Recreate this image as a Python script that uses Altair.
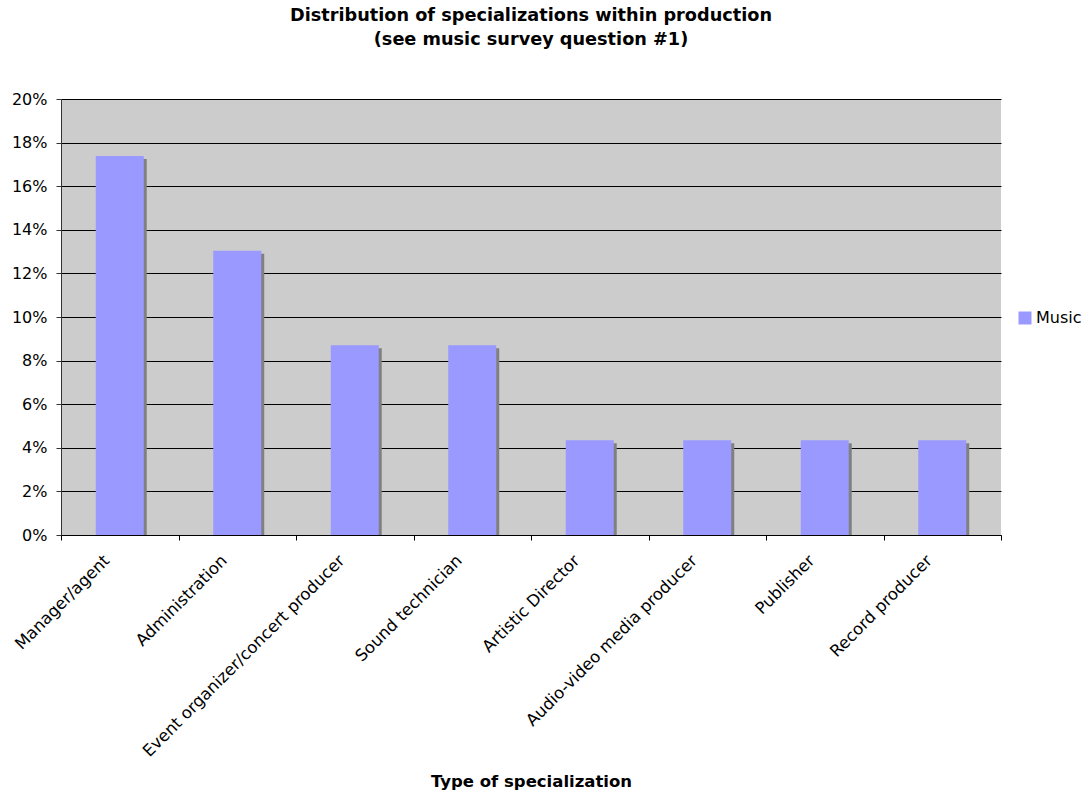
import altair as alt
import pandas as pd

# Share of respondents per production specialization (music survey, question #1)
categories = [
    "Manager/agent",
    "Administration",
    "Event organizer/concert producer",
    "Sound technician",
    "Artistic Director",
    "Audio-video media producer",
    "Publisher",
    "Record producer",
]
shares = [0.1739, 0.1304, 0.0870, 0.0870, 0.0435, 0.0435, 0.0435, 0.0435]
series_name = "Music"
y_ticks = [0, 0.02, 0.04, 0.06, 0.08, 0.10, 0.12, 0.14, 0.16, 0.18, 0.20]

df = pd.DataFrame({"category": categories, "share": shares, "series": series_name})

FONT = "DejaVu Sans"

x_enc = alt.X(
    "category:N",
    sort=categories,
    scale=alt.Scale(paddingInner=0, paddingOuter=0),
    axis=alt.Axis(
        title="Type of specialization",
        titleFont=FONT,
        titleFontSize=16.5,
        titleFontWeight="bold",
        titleColor="#000000",
        titleBaseline="alphabetic",
        titleY=251,
        labelAngle=-45,
        labelAlign="right",
        labelBaseline="top",
        labelFont=FONT,
        labelFontSize=16.5,
        labelColor="#000000",
        labelPadding=12,
        labelOffset=-19,
        labelLimit=400,
        tickBand="extent",
        tickSize=5,
        tickColor="#000000",
        domainColor="#000000",
        zindex=1,
    ),
)

y_enc = alt.Y(
    "share:Q",
    scale=alt.Scale(domain=[0, 0.20], nice=False),
    axis=alt.Axis(
        title=None,
        values=y_ticks,
        format=".0%",
        labelFont=FONT,
        labelFontSize=16,
        labelColor="#000000",
        labelPadding=9,
        tickSize=5,
        tickColor="#333333",
        domainColor="#333333",
        grid=True,
        gridColor="#000000",
        gridOpacity=1,
        gridWidth=1,
    ),
)

# drop shadow behind each bar
shadow = alt.Chart(df).mark_bar(
    size=48, color="#808080", xOffset=3, yOffset=3, clip=True
).encode(x=x_enc, y=y_enc)

bars = alt.Chart(df).mark_bar(size=48).encode(
    x=x_enc,
    y=y_enc,
    color=alt.Color(
        "series:N",
        scale=alt.Scale(range=["#9999FF"]),
        legend=alt.Legend(
            title=None,
            orient="none",
            legendX=956,
            legendY=211,
            symbolType="square",
            symbolSize=169,
            symbolStrokeWidth=0,
            labelFont=FONT,
            labelFontSize=16,
            labelColor="#000000",
            labelOffset=3,
            padding=0,
        ),
    ),
)

chart = (
    alt.layer(shadow, bars)
    .properties(
        width=940,
        height=436,
        autosize=alt.AutoSizeParams(type="none"),
        padding={"left": 61, "top": 99, "right": 86, "bottom": 259},
        background="#FFFFFF",
        title=alt.TitleParams(
            text=[
                "Distribution of specializations within production",
                "(see music survey question #1)",
            ],
            font=FONT,
            fontSize=17.7,
            fontWeight="bold",
            color="#000000",
            anchor="middle",
            frame="group",
            lineHeight=24,
            offset=42,
        ),
    )
    .configure_view(fill="#CCCCCC", stroke=None)
)

chart.save("out.html", embed_options={"renderer": "svg", "actions": False})
